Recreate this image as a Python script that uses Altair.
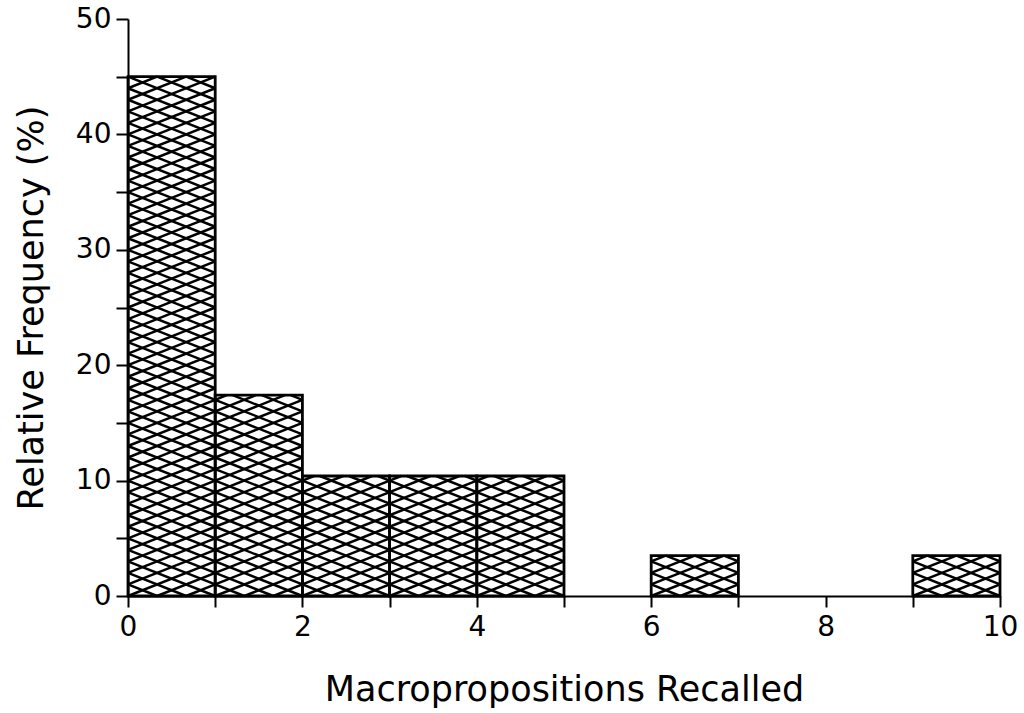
import altair as alt
import pandas as pd

# Histogram data
bin_start = [0, 1, 2, 3, 4, 5, 6, 7, 8, 9]
bin_end = [1, 2, 3, 4, 5, 6, 7, 8, 9, 10]
rel_freq = [45.0, 17.4, 10.4, 10.4, 10.4, 0.0, 3.5, 0.0, 0.0, 3.5]

x_ticks = [0, 1, 2, 3, 4, 5, 6, 7, 8, 9, 10]
y_ticks = [0, 5, 10, 15, 20, 25, 30, 35, 40, 45, 50]

df = pd.DataFrame({"start": bin_start, "end": bin_end, "freq": rel_freq})

FONT = "DejaVu Sans"

x_scale = alt.Scale(domain=[0, 10], nice=False, zero=False)
y_scale = alt.Scale(domain=[0, 50], nice=False)

x_axis = alt.Axis(
    values=x_ticks,
    labelExpr="datum.value % 2 == 0 ? datum.label : ''",
    title="Macropropositions Recalled",
    grid=False,
    tickSize=11,
    tickWidth=2,
    tickColor="black",
    domainColor="black",
    domainWidth=2,
    labelFont=FONT,
    labelFontSize=28,
    labelColor="black",
    labelPadding=6,
    labelFlush=False,
    titleFont=FONT,
    titleFontSize=35,
    titleFontWeight="normal",
    titleColor="black",
    titlePadding=31,
)
y_axis = alt.Axis(
    values=y_ticks,
    labelExpr="datum.value % 10 == 0 ? datum.label : ''",
    title="Relative Frequency (%)",
    grid=False,
    tickSize=12,
    tickWidth=2,
    tickColor="black",
    domainColor="black",
    domainWidth=2,
    labelFont=FONT,
    labelFontSize=28,
    labelColor="black",
    labelPadding=5,
    labelFlush=False,
    titleFont=FONT,
    titleFontSize=35,
    titleFontWeight="normal",
    titleColor="black",
    titlePadding=26,
)

base = alt.Chart(df)

# cross-hatch fill emulated with two families of diagonal lines per bar
hatch = (
    base.transform_filter("datum.freq > 0")
    .transform_calculate(k="sequence(0, 2 * (ceil(datum.freq) + 3))")
    .transform_flatten(["k"])
    .transform_calculate(
        fam="datum.k % 2",
        c="floor(datum.k / 2) - 3",
    )
    .transform_calculate(
        ys="max(datum.c, 0)",
        ye="min(datum.c + 3, datum.freq)",
    )
    .transform_filter("datum.ys < datum.ye")
    .transform_calculate(
        xs="datum.fam == 0 ? datum.start + (datum.ys - datum.c) / 3 : datum.end - (datum.ys - datum.c) / 3",
        xe="datum.fam == 0 ? datum.start + (datum.ye - datum.c) / 3 : datum.end - (datum.ye - datum.c) / 3",
    )
    .mark_rule(color="black", strokeWidth=2.5)
    .encode(
        x=alt.X("xs:Q", scale=x_scale, axis=x_axis),
        x2="xe:Q",
        y=alt.Y("ys:Q", scale=y_scale, axis=y_axis),
        y2="ye:Q",
    )
)

bars = (
    base.transform_filter("datum.freq > 0")
    .mark_rect(fill=None, stroke="black", strokeWidth=2.8)
    .encode(
        x=alt.X("start:Q", scale=x_scale, axis=x_axis),
        x2="end:Q",
        y=alt.Y("freq:Q", scale=y_scale, axis=y_axis),
        y2=alt.datum(0),
    )
)

chart = (
    alt.layer(hatch, bars)
    .properties(
        width=872,
        height=577,
        autosize=alt.AutoSizeParams(type="none"),
        padding={"left": 128, "top": 19, "right": 24, "bottom": 117},
        background="white",
    )
    .configure_view(stroke=None)
)

chart.save("out.html", embed_options={"renderer": "svg", "actions": False})
